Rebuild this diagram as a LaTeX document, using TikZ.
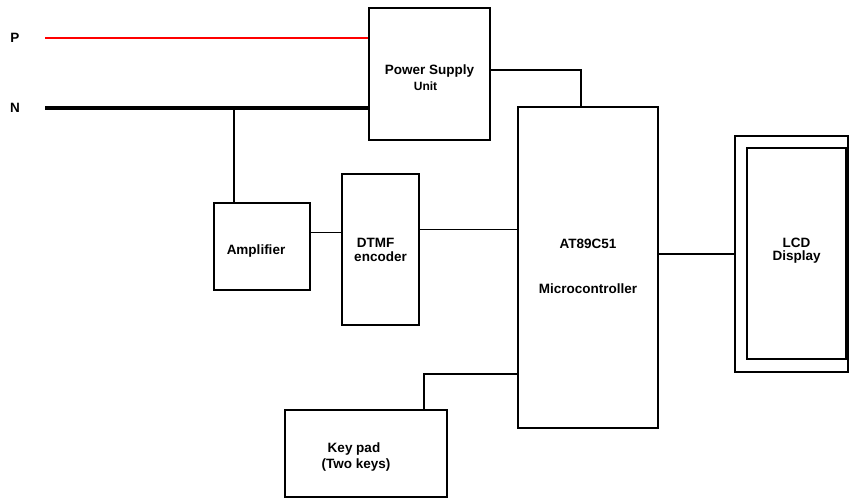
\documentclass[tikz,border=0pt]{standalone}
\usepackage{fontspec}
\setmainfont{Liberation Sans}
\usetikzlibrary{positioning}

\begin{document}
\begin{tikzpicture}[
      x=1pt,y=-1pt,
      blok/.style={
        draw,
        line width=2.8pt,
        inner sep=0pt,
        align=center,
        font=\bfseries\fontsize{13.5}{15}\selectfont
      },
      thin blok/.style={
        blok,
        line width=2pt
      },
      wire/.style={line width=1.8pt},
      lbl/.style={font=\bfseries\fontsize{13.5}{15}\selectfont}
      ]
      \useasboundingbox (0,0) rectangle (850,500);

      \node[lbl] (p) at (15,38) {P};
      \node[lbl] (n) at (15,108) {N};
      \coordinate (pin) at (45,38);
      \coordinate (nin) at (45,108);

      \node[thin blok,minimum width=121pt,minimum height=132pt] at (429.5,74)
        (psu) {Power Supply\\[1pt]\hspace*{-8pt}{\fontsize{12}{13}\selectfont Unit}\\[-22pt]};
      \node[blok,minimum width=140pt,minimum height=321pt] at (588,267.5)
        (mcu) {AT89C51\\[30pt]Microcontroller\\[-12pt]};
      \node[thin blok,minimum width=96pt,minimum height=87pt] at (262,246.5)
        (amp) {\hspace*{-12pt}\raisebox{-8pt}[0pt][0pt]{Amplifier}};
      \node[blok,minimum width=77pt,minimum height=151pt] at (380.5,249.5)
        (dtmf) {\hspace*{-10pt}DTMF\\[-1pt]encoder};
      \node[blok,minimum width=162pt,minimum height=87pt] at (366,453.5)
        (keypad) {\hspace*{-24pt}Key pad\\[1pt]\hspace*{-20pt}(Two keys)\\[-20pt]};
      \node[blok,minimum width=113pt,minimum height=236pt] at (791.5,254)
        (lcd) {};
      \node[blok,minimum width=99pt,minimum height=211pt] at (796.5,253.5)
        (lcdin) {LCD\\[-2pt]Display\\[-6pt]};

      % mains
      \draw[red,line width=2pt] (pin) -- (pin -| psu.west);
      \draw[line width=3.2pt] (nin) -- (nin -| psu.west);
      \coordinate (tap) at (234,108);
      \draw[wire] (tap) -- (tap |- amp.north);

      % links
      \coordinate (ps1) at ([yshift=4pt]psu.east);
      \draw[wire] (ps1) -| ([xshift=-7pt]mcu.north);
      \coordinate (a1) at ([yshift=14pt]amp.east);
      \draw[wire] (a1) -- (a1 -| dtmf.west);
      \coordinate (d1) at ([yshift=20pt]dtmf.east);
      \draw[wire] (d1) -- (d1 -| mcu.west);
      \draw[wire] (lcd.west -| mcu.east) -- (lcd.west);
      \coordinate (k1) at ([xshift=58pt]keypad.north);
      \coordinate (m1) at ([yshift=-106.5pt]mcu.west);
      \draw[wire] (k1) |- (m1);
    \end{tikzpicture}
\end{document}
